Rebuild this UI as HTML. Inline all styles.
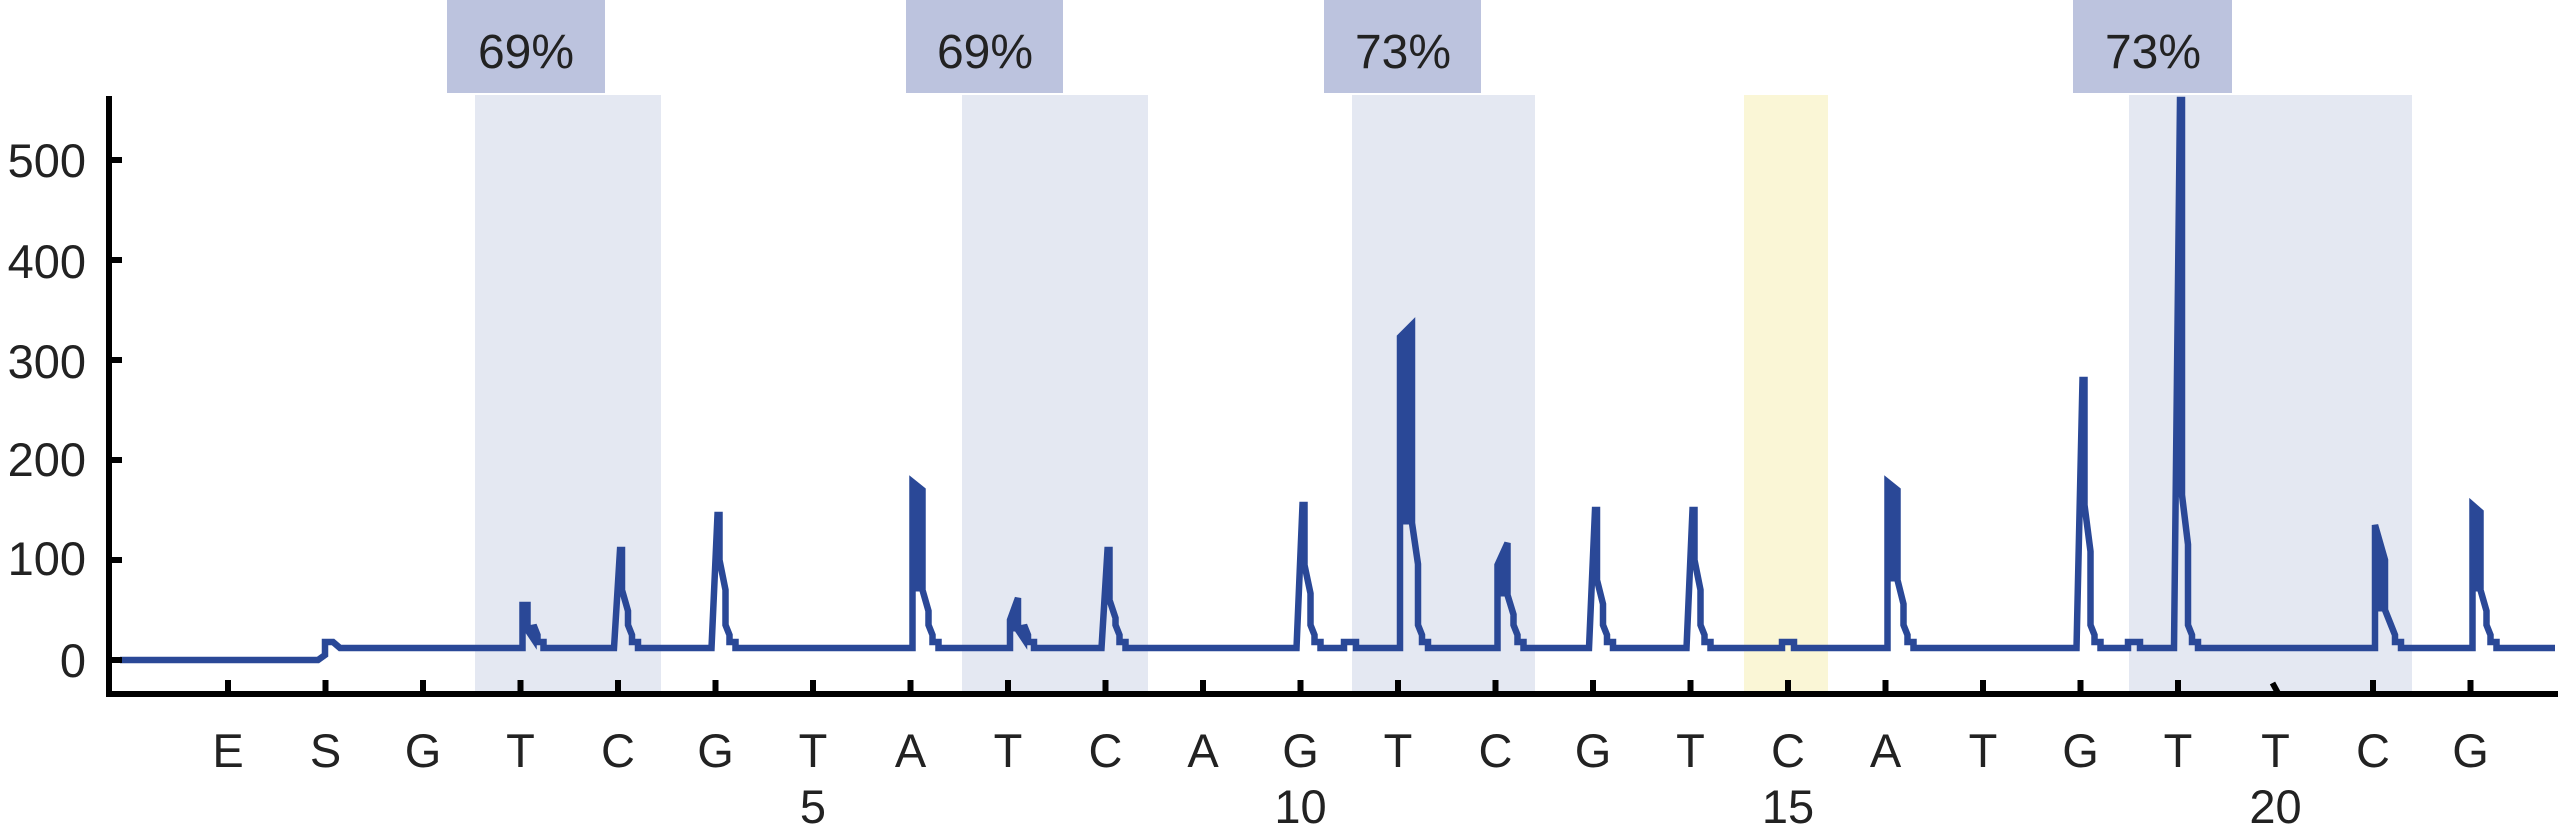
<!DOCTYPE html>
<html><head><meta charset="utf-8"><style>
html,body{margin:0;padding:0;background:#fff;}
svg{display:block;}
text{font-family:"Liberation Sans",sans-serif;fill:#222;}
</style></head><body>
<svg id="s" width="2560" height="835" viewBox="0 0 2560 835" xmlns="http://www.w3.org/2000/svg">
<rect x="475" y="95" width="186" height="599" fill="#e4e8f2"/>
<rect x="962" y="95" width="186" height="599" fill="#e4e8f2"/>
<rect x="1352" y="95" width="183" height="599" fill="#e4e8f2"/>
<rect x="1744" y="95" width="84" height="599" fill="#faf6d6"/>
<rect x="2129" y="95" width="283" height="599" fill="#e4e8f2"/>
<rect x="447" y="0" width="158" height="93" fill="#bcc3de"/>
<rect x="906" y="0" width="157" height="93" fill="#bcc3de"/>
<rect x="1324" y="0" width="157" height="93" fill="#bcc3de"/>
<rect x="2073" y="0" width="159" height="93" fill="#bcc3de"/>
<g font-size="48" text-anchor="middle">
<text x="526" y="68">69%</text>
<text x="985" y="68">69%</text>
<text x="1403" y="68">73%</text>
<text x="2153" y="68">73%</text>
</g>
<g id="plot"></g>
<g stroke="#000" stroke-width="6" fill="none">
<line x1="109" y1="96" x2="109" y2="697"/>
<line x1="106" y1="694" x2="2558" y2="694"/>
</g>
<g id="ticks" stroke="#000" stroke-width="6"></g>
<g font-size="47" text-anchor="end">
<text x="86" y="677">0</text>
<text x="86" y="575">100</text>
<text x="86" y="476">200</text>
<text x="86" y="378">300</text>
<text x="86" y="278">400</text>
<text x="86" y="177">500</text>
</g>
<g id="lab" font-size="47" text-anchor="middle"></g>
</svg>
<script>
var NS="http://www.w3.org/2000/svg";
function el(t,a,p){var e=document.createElementNS(NS,t);for(var k in a)e.setAttribute(k,a[k]);if(p)document.getElementById(p).appendChild(e);return e;}
var Y=function(v){return 660-v*1.0;};
var tk=[];for(var i=0;i<24;i++)tk.push(228+i*97.5);
for(var v=0;v<=500;v+=100){el('line',{x1:109,y1:Y(v),x2:122,y2:Y(v)},'ticks');}
for(var i=0;i<24;i++){ if(i==21) continue; el('line',{x1:tk[i],y1:680,x2:tk[i],y2:694},'ticks');}
el('line',{x1:tk[21]-3,y1:683,x2:tk[21]+3,y2:694},'ticks');
var L="ESGTCGTATCAGTCGTCATGTTCG";
for(var i=0;i<24;i++){var t=el('text',{x:tk[i],y:767},'lab');t.textContent=L[i];}
var nums={6:"5",11:"10",16:"15",21:"20"};
for(var k in nums){var t=el('text',{x:tk[k],y:823},'lab');t.textContent=nums[k];}
var P=[[3,55,55,5,30],[4,110,110,0,70],[5,145,145,0,100],[7,178,170,10,70],[8,40,62,8,30],[9,110,110,0,60],
[11,155,155,0,95],[12,323,335,12,137],[13,95,117,10,65],[14,150,150,0,80],[15,150,150,0,100],[17,178,170,10,80],
[19,280,280,0,155],[20,560,560,0,165],[22,135,100,10,50],[23,155,148,8,70]];
var bumps=[1350,1788,2134];
var pts=[[120,0],[318,0],[325,5],[325,18],[333,18],[340,12]];
var polys=[];
var items=[];
P.forEach(function(p){items.push({x:tk[p[0]]+2,p:p});});
bumps.forEach(function(b){items.push({x:b,b:1});});
items.sort(function(a,b){return a.x-b.x;});
items.forEach(function(it){
 var x=it.x;
 if(it.b){pts.push([x-6,12],[x-6,18],[x+6,18],[x+6,12]);return;}
 var p=it.p,w=p[3],q=p[4];
 if(w>0){pts.push([x,12],[x,p[1]],[x+w,p[2]],[x+w,q]);
   polys.push([[x,p[1]],[x+w,p[2]],[x+w,q],[x,q]]);}
 else{pts.push([x-6,12],[x,p[1]],[x+2,p[1]],[x+2,q]); w=2;}
 var e=x+w;
 pts.push([e+6,q*0.7],[e+6,35],[e+10,25],[e+10,18],[e+16,18],[e+16,12]);
});
pts.push([2555,12]);
var d=pts.map(function(a,i){return (i?'L':'M')+a[0]+' '+Y(a[1]);}).join(' ');
el('path',{d:d,fill:'none',stroke:'#2a4897','stroke-width':6.5,'stroke-linejoin':'miter'},'plot');
polys.forEach(function(pg){el('polygon',{points:pg.map(function(a){return a[0]+','+Y(a[1]);}).join(' '),fill:'#2a4897',stroke:'#2a4897','stroke-width':3},'plot');});
</script>
</body></html>
